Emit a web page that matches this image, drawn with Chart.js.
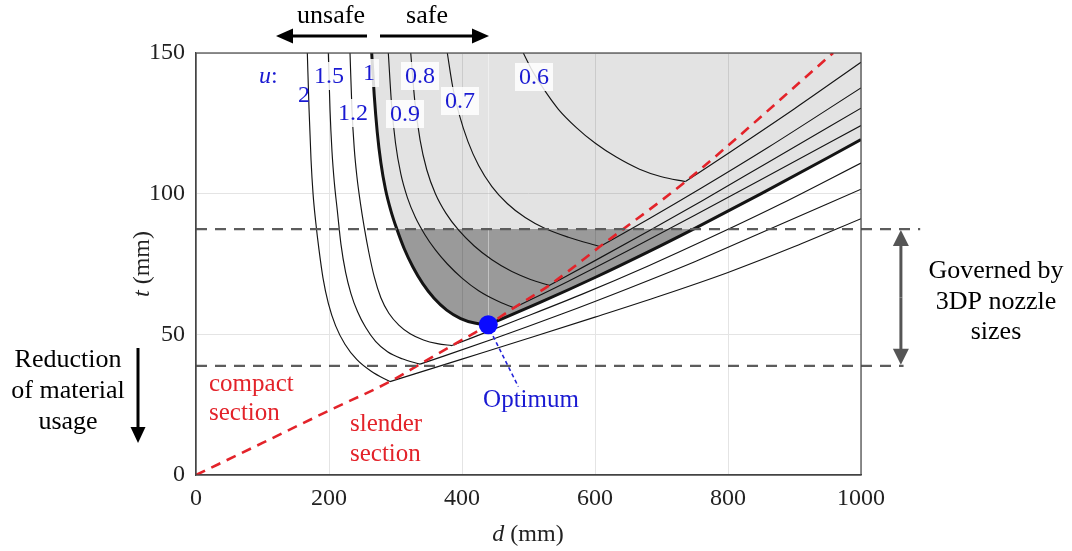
<!DOCTYPE html>
<html><head><meta charset="utf-8">
<script src="https://cdn.jsdelivr.net/npm/chart.js@4.4.1/dist/chart.umd.min.js"></script>
<style>html,body{margin:0;padding:0;background:#fff}#wrap{width:1072px;height:551px;position:relative}</style>
</head><body><div id="wrap"><canvas id="c" width="1072" height="551"></canvas></div>
<script>
// ---- data (d in mm, t in mm) ----
const xTicks = [0, 200, 400, 600, 800, 1000];
const yTicks = [0, 50, 100, 150];
const uValues = ['2', '1.5', '1.2', '1', '0.9', '0.8', '0.7', '0.6'];
const curveU2   = [[167.4,150],[170,130],[173,112],[176,100],[180,90],[185,80],[191,70],[199,61],[210,53],[224,46.5],[242,41],[264,36.8],[291.7,33.2],[400,41.2],[500,48.6],[600,56.1],[700,63.8],[800,72],[900,81.2],[1000,91.1]];
const curveU15  = [[199,150],[201.5,130],[204.5,115],[208,104],[212.5,94],[218,82],[225,72],[233,64.5],[243,58],[255,52.5],[270,47.5],[288,43.8],[310,41.3],[337,39.4],[450,48.6],[550,57.2],[650,66.3],[750,75.8],[850,86.1],[1000,101.6]];
const curveU12  = [[231.6,150],[234.5,130],[238,116],[242,106],[247,97],[253,88],[260,79],[268,70.5],[278,63],[290,57.5],[305,53.3],[322,50.2],[342,48],[363,46.7],[385,46],[480,54.8],[580,64.2],[680,74.3],[780,85.1],[880,96.4],[1000,110.9]];
const curveU1   = [[264.2,150],[268,135],[272.5,122],[278,111],[285,101.5],[293,94],[302,87.4],[313,80.5],[326,74],[341,68],[358,62.8],[377,58.6],[398,55.6],[419,54],[439.5,53.4],[520,61.6],[600,70.2],[680,79.3],[748,87.4],[850,100],[1000,119.2]];
const curveU09  = [[289.2,150],[294,132],[300,118],[308,107],[318,98.5],[330,91.5],[344,85.5],[360,80],[378,75],[400,70],[425,65.5],[452,62],[478,59.4],[560,68.9],[650,79.8],[750,92.3],[850,105],[1000,124.2]];
const curveU08  = [[322.9,150],[329,133],[337,119],[347,108.5],[360,100],[376,93],[395,87],[418,81.5],[445,76.5],[475,72.3],[503,69.5],[531,67.4],[600,76.2],[680,86.6],[760,97.3],[860,111.1],[1000,130.4]];
const curveU07  = [[377.9,150],[386,138],[396,128],[409,118.5],[425,110],[445,102.5],[468,96.5],[495,91.5],[525,87.6],[560,84.5],[607.5,81.2],[680,90.9],[760,102],[860,116.4],[1000,137.6]];
const curveU06  = [[492.2,150],[505,144],[522,137.5],[545,130],[572,123.5],[600,118],[632,113],[667,108.7],[700,106],[736,104.3],[800,114.3],[900,130.2],[1000,146.7]];
const boundary  = [[0,0],[100,11.4],[200,22.9],[291.7,33.2],[337,39.4],[385,46],[439.5,53.4],[478,59.4],[531,67.4],[607.5,81.2],[736,104.3],[958,150]];
const nozzleLimits = [87.4, 38.8];
const nozzleTopExtent = 1089;
const nozzleBottomExtent = 1064;
const nozzleArrowD = 1060;
const optimum = [439.5, 53.4];
const optimumLeader = [[442,51.6],[484.7,31.4]];

const curves = [curveU2, curveU15, curveU12, curveU1, curveU09, curveU08, curveU07, curveU06];
const THICK = 3; // index of u = 1

const P = a => a.map(p => ({x: p[0], y: p[1]}));
function splitAtMin(a){ let k=0; a.forEach((p,i)=>{ if(p[1] < a[k][1]) k=i; }); return [a.slice(0,k+1), a.slice(k)]; }

const datasets = [];
const [thL, thR] = splitAtMin(curveU1);
const lim = nozzleLimits[0];
const mono = 'monotone';
datasets.push({data:P(thL), fill:'end', backgroundColor:'rgba(0,0,0,0.11)', borderWidth:0, pointRadius:0, cubicInterpolationMode:mono, order:30});
datasets.push({data:P(thR), fill:'end', backgroundColor:'rgba(0,0,0,0.11)', borderWidth:0, pointRadius:0, cubicInterpolationMode:mono, order:30});
datasets.push({data:P(thL.filter(p=>p[1]<=lim)), fill:{value:lim}, backgroundColor:'rgba(0,0,0,0.325)', borderWidth:0, pointRadius:0, cubicInterpolationMode:mono, order:29});
datasets.push({data:P(thR.filter(p=>p[1]<=lim)), fill:{value:lim}, backgroundColor:'rgba(0,0,0,0.325)', borderWidth:0, pointRadius:0, cubicInterpolationMode:mono, order:29});
curves.forEach((c,i) => {
  splitAtMin(c).forEach(br => datasets.push({data:P(br), borderColor:'#141414', borderWidth: i===THICK ? 3 : 1.15, pointRadius:0, fill:false, cubicInterpolationMode:mono, order:10}));
});
datasets.push({data:P(boundary), borderColor:'#e3232a', borderWidth:2.6, borderDash:[10,7], pointRadius:0, fill:false, cubicInterpolationMode:mono, order:5});
datasets.push({data:[{x:0,y:nozzleLimits[0]},{x:nozzleTopExtent,y:nozzleLimits[0]}], borderColor:'#5c5c5c', borderWidth:2.2, borderDash:[11,8], pointRadius:0, fill:false, clip:false, order:4});
datasets.push({data:[{x:0,y:nozzleLimits[1]},{x:nozzleBottomExtent,y:nozzleLimits[1]}], borderColor:'#5c5c5c', borderWidth:2.2, borderDash:[11,8], pointRadius:0, fill:false, clip:false, order:4});
datasets.push({data:P(optimumLeader), borderColor:'#2323d8', borderWidth:1.6, borderDash:[4,3], pointRadius:0, fill:false, order:2});
datasets.push({data:[{x:optimum[0],y:optimum[1]}], showLine:false, pointRadius:9.5, pointBackgroundColor:'#0a0aff', pointBorderWidth:0, order:1});

const SERIF = '"Liberation Serif", "Times New Roman", serif';

function arrow(ctx, x1,y1,x2,y2, w, hl, hw, col){
  const a = Math.atan2(y2-y1, x2-x1);
  ctx.save(); ctx.strokeStyle=col; ctx.fillStyle=col; ctx.lineWidth=w;
  ctx.beginPath(); ctx.moveTo(x1,y1); ctx.lineTo(x2 - Math.cos(a)*hl*0.8, y2 - Math.sin(a)*hl*0.8); ctx.stroke();
  ctx.beginPath(); ctx.moveTo(x2,y2);
  ctx.lineTo(x2 - Math.cos(a)*hl - Math.sin(a)*hw/2, y2 - Math.sin(a)*hl + Math.cos(a)*hw/2);
  ctx.lineTo(x2 - Math.cos(a)*hl + Math.sin(a)*hw/2, y2 - Math.sin(a)*hl - Math.cos(a)*hw/2);
  ctx.closePath(); ctx.fill(); ctx.restore();
}
function mixed(ctx, parts, cx, cy, align){
  let total = 0;
  parts.forEach(p => { ctx.font = (p[1]?'italic ':'') + p[2] + 'px ' + SERIF; total += ctx.measureText(p[0]).width; });
  let x = align==='center' ? cx - total/2 : cx;
  parts.forEach(p => { ctx.font = (p[1]?'italic ':'') + p[2] + 'px ' + SERIF; ctx.textAlign='left'; ctx.fillText(p[0], x, cy); x += ctx.measureText(p[0]).width; });
  return total;
}

const annot = {
  id:'annot',
  afterDraw(chart){
    const ctx = chart.ctx, a = chart.chartArea, xs = chart.scales.x, ys = chart.scales.y;
    ctx.save();
    ctx.strokeStyle='#444'; ctx.lineWidth=1.2;
    ctx.strokeRect(a.left, a.top, a.right-a.left, a.bottom-a.top);
    const blue = '#1a1ad2';
    ctx.textBaseline='alphabetic';
    const pos = {'2':[304,102],'1.5':[329,83],'1.2':[353,120],'1':[369,80],'0.9':[405,121],'0.8':[420,83],'0.7':[460,108],'0.6':[534,84]};
    ctx.font = '24px ' + SERIF;
    uValues.forEach(u => {
      const w = ctx.measureText(u).width, p = pos[u];
      if (u !== '2') { ctx.fillStyle='rgba(255,255,255,0.85)'; ctx.fillRect(p[0]-w/2-4, p[1]-21, w+8, 28); }
    });
    ctx.fillStyle = blue; ctx.textAlign='center';
    uValues.forEach(u => ctx.fillText(u, pos[u][0], pos[u][1]));
    mixed(ctx, [['u',true,24],[':',false,24]], 259, 83, 'left');
    ctx.fillStyle='#e3232a'; ctx.font='25px '+SERIF; ctx.textAlign='left'; ctx.textBaseline='middle';
    ctx.fillText('compact', 209, 384); ctx.fillText('section', 209, 413);
    ctx.fillText('slender', 350, 424); ctx.fillText('section', 350, 454);
    ctx.fillStyle=blue; ctx.textAlign='center'; ctx.font='25px '+SERIF;
    ctx.fillText('Optimum', 531, 400);
    ctx.fillStyle='#000'; ctx.font='26px '+SERIF;
    ctx.fillText('unsafe', 331, 16); ctx.fillText('safe', 427, 16);
    arrow(ctx, 367, 36, 276, 36, 3, 17, 15, '#000');
    arrow(ctx, 380, 36, 489, 36, 3, 17, 15, '#000');
    ctx.fillText('Reduction', 68, 360); ctx.fillText('of material', 68, 391); ctx.fillText('usage', 68, 422);
    arrow(ctx, 138, 348, 138, 443, 3, 16, 15, '#000');
    ctx.fillText('Governed by', 996, 271); ctx.fillText('3DP nozzle', 996, 302); ctx.fillText('sizes', 996, 332);
    const ax = xs.getPixelForValue(nozzleArrowD), y1 = ys.getPixelForValue(nozzleLimits[0]), y2 = ys.getPixelForValue(nozzleLimits[1]);
    const mid = (y1+y2)/2;
    arrow(ctx, ax, mid, ax, y1+1, 3, 16, 16, '#555');
    arrow(ctx, ax, mid, ax, y2-1, 3, 16, 16, '#555');
    ctx.fillStyle='#222'; ctx.textBaseline='middle';
    mixed(ctx, [['d',true,24],[' (mm)',false,24]], 528, 535, 'center');
    ctx.translate(143, 264); ctx.rotate(-Math.PI/2);
    mixed(ctx, [['t',true,24],[' (mm)',false,24]], 0, 0, 'center');
    ctx.restore();
  }
};

new Chart(document.getElementById('c').getContext('2d'), {
  type:'scatter',
  data:{datasets},
  options:{
    responsive:false, animation:false, devicePixelRatio:1,
    showLine:true,
    layout:{padding:{left:0, right:211, top:53, bottom:0}},
    plugins:{legend:{display:false}, tooltip:{enabled:false}, filler:{propagate:false}},
    scales:{
      x:{type:'linear', min:xTicks[0], max:xTicks[xTicks.length-1],
         afterBuildTicks: s => { s.ticks = xTicks.map(v=>({value:v})); },
         afterFit: s => { s.height = 76; },
         grid:{color:'#e4e4e4', lineWidth:1, drawTicks:false},
         border:{color:'#444', width:1.2},
         ticks:{font:{family:SERIF, size:24}, color:'#222', padding:9, maxRotation:0, callback: v => String(v)}},
      y:{type:'linear', min:yTicks[0], max:yTicks[yTicks.length-1],
         afterBuildTicks: s => { s.ticks = yTicks.map(v=>({value:v})); },
         afterFit: s => { s.width = 196; },
         grid:{color:'#e4e4e4', lineWidth:1, drawTicks:false},
         border:{color:'#444', width:1.2},
         ticks:{font:{family:SERIF, size:24}, color:'#222', padding:11, callback: v => String(v)}}
    }
  },
  plugins:[annot]
});
</script>
</body></html>
